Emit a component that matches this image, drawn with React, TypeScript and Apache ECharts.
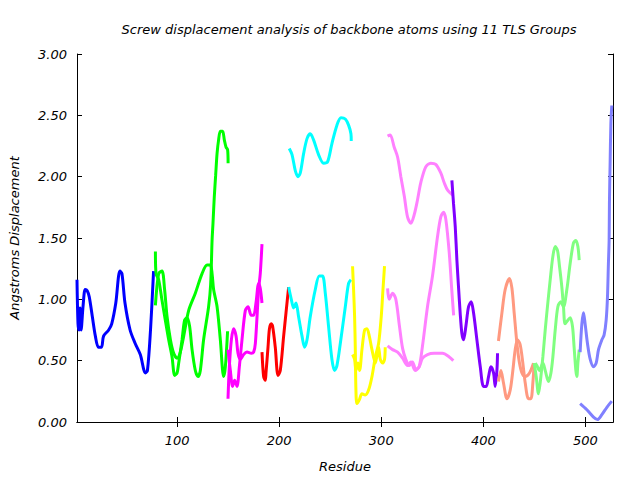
import React, { useEffect, useRef } from "react";
import * as echarts from "echarts";

const xTicks = [100, 200, 300, 400, 500];

const blue1 = [[2,1.16],[3,0.80],[4,0.75],[5,0.93],[6,0.75],[8,0.95],[10,1.08],[12,1.07],[14,1.02],[17,0.86],[20,0.70],[23,0.61],[26,0.61],[28,0.70],[33,0.75],[36,0.80],[40,0.97],[44,1.23],[46,1.21],[49,0.97],[54,0.75],[59,0.64],[64,0.55],[69,0.40],[71,0.42],[74,0.75],[77,1.23]];

const greenA = [[78.8,1.39],[79.4,1.21],[82,1.16],[85.3,0.99],[88.5,0.83],[91.8,0.67],[95.1,0.53],[97.7,0.38],[100,0.40],[101.6,0.48],[104.9,0.67],[107.4,0.83],[109.8,0.85],[112.3,0.78],[114.7,0.59],[117.9,0.42],[120.6,0.37],[122.8,0.42],[126,0.67],[130.9,0.94],[132.9,1.12],[134.3,1.48],[135.2,1.62],[136.5,1.84],[137.8,2.01],[139.2,2.19],[140.7,2.30],[142.4,2.37],[144.6,2.37],[146.3,2.30],[148,2.24],[149.5,2.22],[150,2.11]];
const greenB = [[78.8,0.95],[82,1.21],[85.3,1.23],[87.8,1.08],[90.2,0.86],[93.5,0.67],[96.7,0.56],[100,0.52],[103.2,0.57],[106.5,0.70],[111.4,0.91],[117.9,1.05],[124.5,1.21],[129.4,1.28],[132.6,1.28],[134.3,1.21],[135.8,1.08],[139.2,0.94],[142.4,0.67],[145.6,0.37],[147.3,0.45],[149.5,0.74]];

const magentaA = [[149.9,0.19],[151.2,0.45],[153.2,0.67],[155.4,0.76],[157.8,0.70],[159.7,0.56],[162,0.51],[165.2,0.55],[168.5,0.57],[172.7,0.56],[175,0.57],[176.7,0.64],[179.9,1.08],[181.5,1.21],[183.2,1.45]];
const magentaB = [[149.9,0.59],[152.2,0.42],[154.4,0.29],[156.4,0.34],[158.7,0.29],[161,0.45],[163.6,0.67],[166.9,0.91],[169.5,0.94],[172.7,0.87],[175,0.87],[177.3,0.97],[179.9,1.13],[181.5,1.09],[183.2,0.97]];

const red1 = [[183.2,0.57],[184.8,0.37],[186.4,0.34],[187.1,0.40],[189.1,0.61],[190.5,0.76],[192.3,0.80],[193.6,0.78],[196.2,0.61],[198.9,0.38],[201.1,0.42],[204.4,0.70],[206.7,0.89],[209.3,1.10]];

const cyanA = [[209.9,2.23],[212.6,2.18],[215.8,2.05],[218.5,2.00],[220.7,2.03],[224,2.19],[227.3,2.31],[230.5,2.35],[233.7,2.30],[238.6,2.18],[243.5,2.11],[247.4,2.12],[251.7,2.27],[256.6,2.42],[260.6,2.48],[264.8,2.47],[268,2.42],[270.3,2.35],[270.6,2.29]];
const cyanB = [[209.3,1.10],[211.9,1.00],[214.2,0.93],[216.5,0.97],[219,0.86],[222.4,0.70],[224.9,0.61],[227.3,0.67],[230.5,0.86],[235.4,1.08],[239.3,1.19],[242.5,1.19],[245.2,1.05],[248.4,0.78],[251.7,0.51],[254.3,0.42],[256.6,0.46],[259.9,0.64],[264.8,0.94],[268,1.13],[270.3,1.16]];

const yellowA = [[271.9,1.27],[272.9,1.08],[273.9,0.86],[274.6,0.59],[275.2,0.26],[276.2,0.15],[278.5,0.18],[281.1,0.23],[284.3,0.22],[287.6,0.26],[290.9,0.37],[294.2,0.53],[297.4,0.64],[300,0.86],[301.7,1.08],[303.2,1.27]];
const yellowB = [[271.9,0.55],[273.9,0.51],[275.2,0.42],[277.2,0.48],[278.8,0.42],[281.1,0.59],[283.7,0.75],[286,0.76],[288.3,0.70],[290.9,0.59],[294.2,0.48],[297.4,0.61],[299.1,0.51],[301.3,0.48],[303.2,0.51],[303.9,0.61]];

const pinkA = [[306.2,2.33],[308.8,2.34],[312.7,2.24],[316,2.16],[319.2,2.00],[322.6,1.84],[325.8,1.67],[329,1.62],[332.3,1.69],[335.5,1.81],[338.7,1.95],[343.6,2.08],[348.5,2.11],[353.4,2.10],[358.3,2.03],[361.7,1.95],[365,1.89],[369.9,1.85]];
const pinkB = [[306.2,1.09],[307.8,1.00],[311.1,1.05],[314.3,1.00],[317.7,0.79],[320.9,0.60],[324.1,0.51],[327.4,0.46],[330.6,0.49],[333.8,0.43],[337.1,0.45],[340.4,0.62],[345.3,0.94],[350.2,1.19],[355.1,1.51],[358.3,1.67],[361,1.71],[363.3,1.65],[366.6,1.38],[368.9,1.10],[370.9,0.87]];
const pinkC = [[306.2,0.62],[311.1,0.59],[316,0.57],[320.9,0.52],[325.8,0.46],[329,0.49],[333.2,0.42],[337.1,0.45],[340.4,0.52],[345.3,0.55],[351.8,0.56],[360,0.56],[366.6,0.53],[370.6,0.50]];

const purple1 = [[369.2,1.97],[370.8,1.78],[372.5,1.59],[374.1,1.32],[375.7,1.10],[377.3,0.89],[379,0.72],[380.6,0.67],[382.9,0.78],[385.5,0.94],[388.1,0.98],[390.4,0.89],[393.7,0.67],[397,0.45],[400.2,0.29],[402.8,0.29],[405.1,0.37],[407.4,0.45],[410,0.40],[411.6,0.29],[413.3,0.42],[413.9,0.56]];

const salmonA = [[414.8,0.66],[418.2,0.89],[421.4,1.08],[425.6,1.17],[428,1.09],[430.2,0.89],[432.9,0.64],[435.4,0.48],[437.8,0.40],[441,0.37],[445.2,0.40],[449.1,0.48]];
const salmonB = [[414.8,0.33],[417.2,0.42],[419.7,0.32],[423.1,0.19],[426.3,0.26],[428.9,0.42],[431.2,0.59],[433.5,0.67],[436.1,0.63],[438.7,0.48],[441,0.32],[444.2,0.19],[446.6,0.19],[448.5,0.32],[449.8,0.48]];

const lightGreenA = [[449.8,0.48],[451.8,0.37],[454,0.23],[455.7,0.32],[458.3,0.53],[460.6,0.75],[462.8,0.94],[465.5,1.16],[468.1,1.35],[470.4,1.43],[472.6,1.40],[474.6,1.27],[476.9,1.10],[478.5,0.94],[480.1,0.80],[482.8,0.83],[485,0.85],[487.3,0.78],[488.9,0.61],[490.6,0.42],[491.6,0.37],[492.6,0.48],[493.9,0.59]];
const lightGreenB = [[450.8,0.48],[452.4,0.46],[455,0.42],[458.3,0.48],[460.6,0.42],[463.8,0.33],[466.2,0.40],[468.1,0.53],[470.4,0.75],[473,0.94],[475.9,0.98],[478.5,0.94],[481.8,1.08],[485,1.29],[488.3,1.46],[490.6,1.48],[492.6,1.43],[493.9,1.32]];

const slateA = [[494.8,0.57],[496.5,0.80],[498.1,0.89],[499.7,0.80],[502,0.64],[504.7,0.51],[507.9,0.45],[510.5,0.48],[512.8,0.59],[516.1,0.67],[518.3,0.71],[520.3,0.83],[521.6,1.02],[522.5,1.29],[523.2,1.48],[523.5,1.78],[524.2,2.12],[524.9,2.43],[525.8,2.58]];
const slateB = [[494.8,0.15],[501.4,0.10],[507.9,0.04],[511.8,0.02],[516.1,0.06],[521,0.12],[525.8,0.17]];

const curves: [number[][], string][] = [
  [blue1, "#0000ff"],
  [greenA, "#00ff00"], [greenB, "#00ff00"],
  [magentaA, "#ff00ff"], [magentaB, "#ff00ff"],
  [red1, "#ff0000"],
  [cyanA, "#00ffff"], [cyanB, "#00ffff"],
  [yellowA, "#ffff00"], [yellowB, "#ffff00"],
  [pinkA, "#ff80ff"], [pinkB, "#ff80ff"], [pinkC, "#ff80ff"],
  [purple1, "#8000ff"],
  [salmonA, "#ff9980"], [salmonB, "#ff9980"],
  [lightGreenA, "#80ff80"], [lightGreenB, "#80ff80"],
  [slateA, "#8080ff"], [slateB, "#8080ff"],
];

const FONT = "DejaVu Sans";

export default function App() {
  const ref = useRef<HTMLDivElement>(null);
  useEffect(() => {
    if (!ref.current) return;
    const chart = echarts.init(ref.current, null, { renderer: "svg" });
    const txt = { fontFamily: FONT, fontStyle: "italic" as const, fontSize: 13, color: "#000" };
    const axisLine = { show: true, lineStyle: { color: "#000", width: 1 } };
    chart.setOption({
      animation: false,
      backgroundColor: "#fff",
      title: {
        text: "Screw displacement analysis of backbone atoms using 11 TLS Groups",
        left: 344,
        top: 18,
        textAlign: "center",
        textStyle: { ...txt, fontWeight: "normal" },
      },
      grid: { left: 77, right: 27, top: 54, bottom: 58, containLabel: false },
      xAxis: [
        {
          type: "value",
          min: 2,
          max: 527,
          position: "bottom",
          name: "Residue",
          nameLocation: "middle",
          nameGap: 38,
          nameTextStyle: txt,
          axisLine,
          axisTick: { show: true, inside: true, length: 5, customValues: xTicks, lineStyle: { color: "#000" } },
          axisLabel: { ...txt, margin: 12, customValues: xTicks },
          splitLine: { show: false },
        },
        {
          type: "value",
          min: 2,
          max: 527,
          position: "top",
          axisLine,
          axisTick: { show: true, inside: true, length: 5, customValues: xTicks, lineStyle: { color: "#000" } },
          axisLabel: { show: false },
          splitLine: { show: false },
        },
      ],
      yAxis: [
        {
          type: "value",
          min: 0,
          max: 3,
          interval: 0.5,
          position: "left",
          name: "Angstroms Displacement",
          nameLocation: "middle",
          nameGap: 56,
          nameRotate: 90,
          nameTextStyle: txt,
          axisLine,
          axisTick: { show: true, inside: true, length: 5, lineStyle: { color: "#000" } },
          axisLabel: { ...txt, margin: 10, formatter: (v: number) => v.toFixed(2) },
          splitLine: { show: false },
        },
        {
          type: "value",
          min: 0,
          max: 3,
          interval: 0.5,
          position: "right",
          axisLine,
          axisTick: { show: true, inside: true, length: 5, lineStyle: { color: "#000" } },
          axisLabel: { show: false },
          splitLine: { show: false },
        },
      ],
      series: curves.map(([data, color]) => ({
        type: "line",
        data,
        xAxisIndex: 0,
        yAxisIndex: 0,
        showSymbol: false,
        silent: true,
        smooth: 0.3,
        lineStyle: { color, width: 3 },
        clip: true,
      })),
    });
    return () => chart.dispose();
  }, []);
  return <div ref={ref} style={{ position: "fixed", left: 0, top: 0, width: 640, height: 480 }} />;
}
